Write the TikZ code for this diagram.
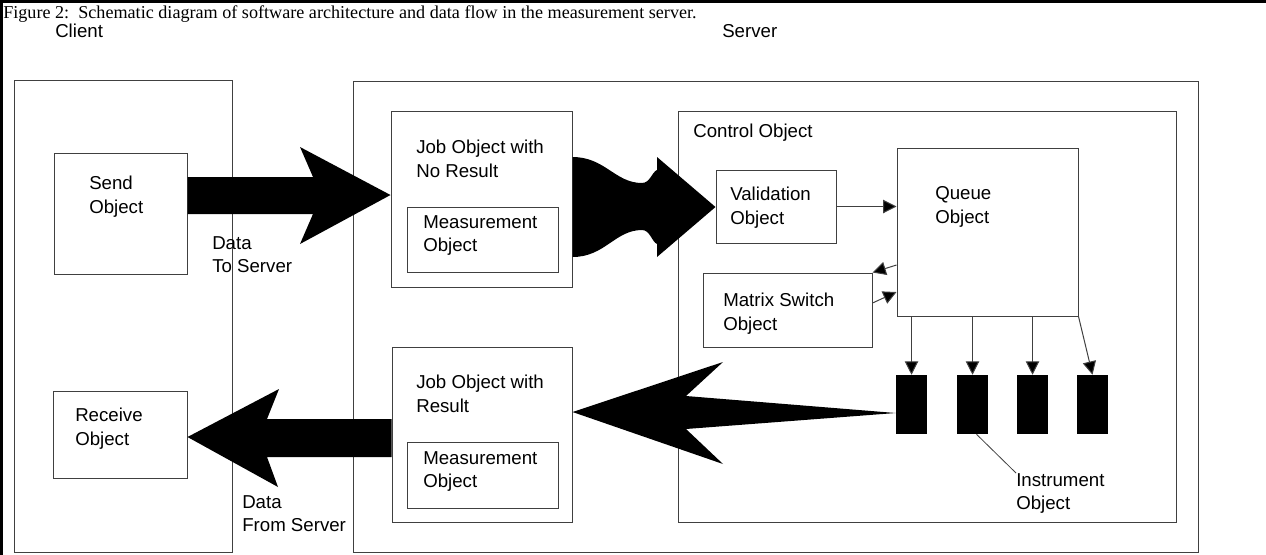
\documentclass[tikz,border=0pt]{standalone}
\usepackage{fontspec}
\setmainfont{Liberation Serif}
\newfontfamily\arial{Liberation Sans}
\usetikzlibrary{arrows.meta,fit,calc}
\begin{document}
\begin{tikzpicture}[x=0.75pt,y=-0.75pt,
  box/.style={draw=black!75, line width=0.75pt, inner sep=0pt},
  inst/.style={fill=black, inner sep=0pt},
  lbl/.style={font=\arial\fontsize{14}{17.8}\selectfont, align=left, anchor=north west, inner sep=0pt},
  sarr/.style={draw=black!75, line width=0.75pt, -{Triangle[length=10pt,width=10pt,fill=black]}},
  big/.style={fill=black}]
\useasboundingbox (0,0) rectangle (1266,554);
% outer frame (top and left)
\draw[line width=2.25pt] (1.5,560) -- (1.5,1.5) -- (1270,1.5);
\node[anchor=north west, inner sep=0pt, font=\fontsize{13.6}{16}\selectfont] (title) at (3,5)
  {Figure 2:\ \ Schematic diagram of software architecture and data flow in the measurement server.};
\node[lbl] (tclient) at (55,24) {Client};
\node[lbl] (tserver) at (722,24) {Server};
% boxes
\node[box, fit={(14,80)(232,552)}] (client) {};
\node[box, fit={(353,81)(1198,552)}] (server) {};
\node[box, fit={(54,153)(187,274)}] (send) {};
\node[box, fit={(53,391)(187,478)}] (recv) {};
\node[box, fit={(391,111)(572,287)}] (jobA) {};
\node[box, fit={(407,207)(558,272)}] (measA) {};
\node[box, fit={(392,347)(572,522)}] (jobB) {};
\node[box, fit={(407,442)(558,508)}] (measB) {};
\node[box, fit={(678,111)(1176,522)}] (ctrl) {};
\node[box, fit={(716,170)(836,243)}] (val) {};
\node[box, fit={(897,148)(1078,316)}] (queue) {};
\node[box, fit={(703,273)(872,347)}] (mx) {};
\node[inst, fit={(896,375)(927,434)}] (i1) {};
\node[inst, fit={(957,375)(988,434)}] (i2) {};
\node[inst, fit={(1017,375)(1048,434)}] (i3) {};
\node[inst, fit={(1077,375)(1108,434)}] (i4) {};
% labels
\node[lbl] (lsend) at (89,176) {Send\\Object};
\node[lbl] (lrecv) at (75,408) {Receive\\Object};
\node[lbl] (ldts) at (212,236) {Data\\To Server};
\node[lbl] (ldfs) at (242,495) {Data\\From Server};
\node[lbl] (ljobA) at (416,140) {Job Object with\\No Result};
\node[lbl] (lmeasA) at (423,215) {Measurement\\Object};
\node[lbl] (ljobB) at (416,375) {Job Object with\\Result};
\node[lbl] (lmeasB) at (423,451) {Measurement\\Object};
\node[lbl] (lctrl) at (693,124) {Control Object};
\node[lbl] (lval) at (730,187) {Validation\\Object};
\node[lbl] (lqueue) at (935,186) {Queue\\Object};
\node[lbl] (lmx) at (723,293) {Matrix Switch\\Object};
\node[lbl] (linst) at (1016,473) {Instrument\\Object};
% big arrows
\fill (send.east |- {(0,177)}) -- (313,177) -- (300,147) -- (jobA.west |- {(0,195)}) -- (300,244) -- (313,214) -- (send.east |- {(0,214)}) -- cycle;
\fill (jobB.west |- {(0,419)}) -- (267,419) -- (279,389) -- (recv.east |- {(0,437)}) -- (278,487) -- (267,457) -- (jobB.west |- {(0,457)}) -- cycle;
\fill (i1.west |- {(0,413)}) -- (686,396) -- (723,362) -- (jobB.east |- {(0,412)}) -- (723,464) -- (686,429) -- cycle;
\fill (jobA.east |- {(0,157)}) .. controls (605,157) and (615,183) .. (642,183)
  .. controls (650,183) and (652,172) .. (657,170) -- (657,157) -- (val.west |- {(0,207)}) -- (657,257) -- (657,244)
  .. controls (652,242) and (650,230) .. (642,230) .. controls (615,230) and (605,257) .. (jobA.east |- {(0,257)}) -- cycle;
% small arrows
\draw[sarr] (val.east) -- (val.east -| queue.west);
\draw[sarr] (queue.west |- {(0,265)}) -- (mx.north east);
\draw[sarr] ($(mx.east)+(0,-7)$) -- (queue.west |- {(0,292)});
\draw[sarr] (queue.south -| i1) -- (i1.north);
\draw[sarr] (queue.south -| i2) -- (i2.north);
\draw[sarr] (queue.south -| i3) -- (i3.north);
\draw[sarr] (queue.south east) -- (i4.north);
\draw[draw=black!75, line width=0.6pt] ($(i2.south)+(4,0)$) -- (linst.north west);
\end{tikzpicture}
\end{document}
